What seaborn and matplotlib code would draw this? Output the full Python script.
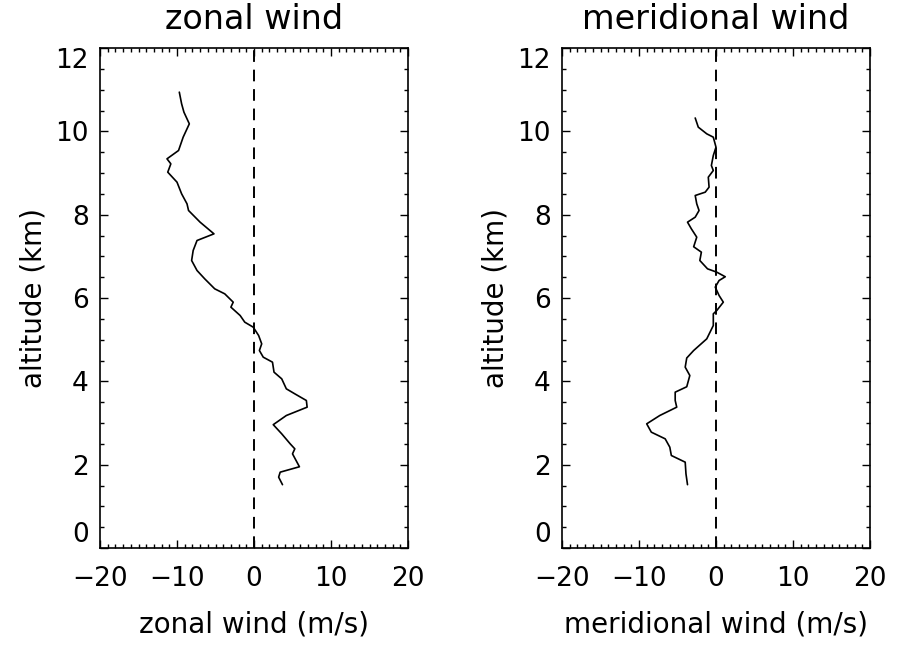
import numpy as np
import pandas as pd
import matplotlib
matplotlib.use("Agg")
import matplotlib.pyplot as plt
import seaborn as sns
from matplotlib.ticker import MultipleLocator

# ---- data ----
zonal_u = [-9.7, -9.4, -9.1, -8.4, -9.2, -9.8, -11.3, -10.8, -11.2, -10.0, -9.4, -8.7, -8.5,
           -7.0, -5.2, -7.4, -7.9, -8.1, -7.4, -6.4, -5.1, -3.8, -2.7, -3.0, -1.8, -1.2,
           -0.1, 0.6, 1.0, 0.7, 1.2, 2.4, 2.6, 3.6, 4.2, 5.3, 6.8, 6.9, 4.2, 2.5, 3.6, 4.7,
           5.3, 5.0, 5.9, 3.4, 3.2, 3.7]
zonal_alt = [10.94, 10.66, 10.46, 10.18, 9.86, 9.54, 9.34, 9.22, 9.02, 8.78, 8.50, 8.26, 8.10,
             7.82, 7.54, 7.38, 7.14, 6.90, 6.66, 6.46, 6.22, 6.10, 5.90, 5.78, 5.58, 5.42,
             5.30, 5.10, 4.90, 4.74, 4.58, 4.46, 4.22, 4.06, 3.82, 3.70, 3.54, 3.38, 3.18,
             2.96, 2.74, 2.50, 2.38, 2.26, 1.95, 1.82, 1.70, 1.52]

merid_v = [-2.7, -2.3, -1.2, -0.35, 0.0, -0.35, -0.6, -0.35, -1.0, -0.9, -1.4, -2.7, -2.5,
           -2.2, -2.7, -3.7, -3.2, -2.5, -2.9, -1.9, -2.1, -1.1, 0.1, 1.2, 0.4, -0.1, 0.4,
           0.95, 0.1, -0.35, -0.35, -1.2, -2.9, -3.8, -4.0, -3.4, -3.8, -5.3, -5.3, -5.1,
           -7.3, -9.0, -8.4, -6.6, -6.0, -5.8, -4.0, -3.9, -3.7]
merid_alt = [10.32, 10.10, 9.94, 9.86, 9.62, 9.42, 9.18, 9.06, 8.90, 8.66, 8.54, 8.46, 8.26,
             8.10, 7.94, 7.82, 7.66, 7.46, 7.23, 7.10, 6.90, 6.70, 6.62, 6.51, 6.42, 6.26,
             6.06, 5.90, 5.70, 5.62, 5.34, 5.02, 4.74, 4.56, 4.34, 4.14, 3.87, 3.74, 3.54,
             3.38, 3.18, 2.98, 2.78, 2.62, 2.42, 2.22, 2.06, 1.78, 1.52]

titles = ["zonal wind", "meridional wind"]
xlabels = ["zonal wind (m/s)", "meridional wind (m/s)"]
ylabel = "altitude (km)"
xticks = [-20, -10, 0, 10, 20]
yticks = [0, 2, 4, 6, 8, 10, 12]

sns.set_style("white", {"text.color": "black", "axes.labelcolor": "black",
                        "xtick.color": "black", "ytick.color": "black",
                        "axes.edgecolor": "black"})
plt.rcParams['font.family'] = ['DejaVu Sans']

fig = plt.figure(figsize=(8.98, 6.5), dpi=100)
ax1 = fig.add_axes([100/898, 102/650, 308/898, 500/650])
ax2 = fig.add_axes([562/898, 102/650, 308/898, 500/650])

for ax, xs, ys, title, xl in [(ax1, zonal_u, zonal_alt, titles[0], xlabels[0]),
                              (ax2, merid_v, merid_alt, titles[1], xlabels[1])]:
    df = pd.DataFrame({"wind": xs, "alt": ys})
    sns.lineplot(data=df, x="wind", y="alt", sort=False, estimator=None,
                 color="black", linewidth=1.2, ax=ax)
    ax.axvline(0, color="black", linewidth=1.4, linestyle=(0, (6, 4)))
    ax.set_xlim(-20, 20)
    ax.set_ylim(0, 12)
    ax.set_xticks(xticks)
    ax.set_yticks(yticks)
    ax.xaxis.set_minor_locator(MultipleLocator(1))
    ax.yaxis.set_minor_locator(MultipleLocator(0.5))
    ax.tick_params(which="both", direction="in", top=True, right=True,
                   bottom=True, left=True, color="black", width=1.0)
    ax.tick_params(which="major", length=6, labelsize=19)
    ax.tick_params(axis="x", which="major", pad=13)
    ax.tick_params(axis="y", which="major", pad=8)
    ax.tick_params(which="minor", length=3)
    ax.set_xticklabels([("\u2212%d" % -t) if t < 0 else str(t) for t in xticks])
    ylabs = ax.set_yticklabels([str(t) for t in yticks])
    ylabs[0].set_va("bottom")
    ylabs[-1].set_va("top")
    for s in ax.spines.values():
        s.set_visible(True)
        s.set_color("black")
        s.set_linewidth(1.2)
    ax.set_title(title, fontsize=24, pad=14)
    ax.set_xlabel(xl, fontsize=20)
    ax.set_ylabel(ylabel, fontsize=20)
    ax.xaxis.set_label_coords(0.5, -0.125)
    ax.yaxis.set_label_coords(-0.17, 0.5)

fig.savefig("out.png", dpi=100, facecolor="white")
